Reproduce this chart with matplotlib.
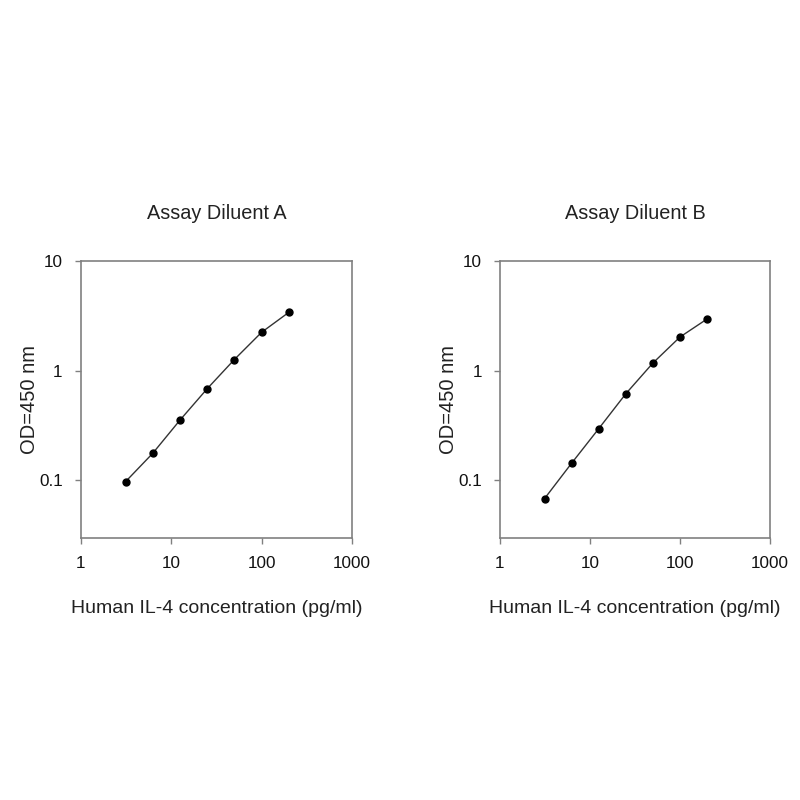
import matplotlib
matplotlib.use("Agg")
import matplotlib.pyplot as plt
from matplotlib.ticker import FixedLocator, FixedFormatter, NullLocator

plt.rcParams['font.family'] = ['Liberation Sans', 'DejaVu Sans']

conc = [3.125, 6.25, 12.5, 25, 50, 100, 200]
od_a = [0.097, 0.176, 0.353, 0.682, 1.26, 2.23, 3.39]
od_b = [0.068, 0.143, 0.295, 0.614, 1.17, 2.02, 2.95]
titles = ["Assay Diluent A", "Assay Diluent B"]
xticks = [1, 10, 100, 1000]
xticklabels = ["1", "10", "100", "1000"]
yticks = [0.1, 1, 10]
yticklabels = ["0.1", "1", "10"]

fig = plt.figure(figsize=(8, 8), dpi=100)
positions = [[0.101, 0.328, 0.339, 0.346], [0.625, 0.328, 0.3375, 0.346]]
for pos, od, title in zip(positions, [od_a, od_b], titles):
    ax = fig.add_axes(pos)
    ax.plot(conc, od, color='#333333', lw=1.0, marker='o', ms=5,
            mfc='black', mec='black')
    ax.set_xscale('log')
    ax.set_yscale('log')
    ax.set_xlim(1, 1000)
    ax.set_ylim(0.03, 10)
    ax.xaxis.set_major_locator(FixedLocator(xticks))
    ax.xaxis.set_major_formatter(FixedFormatter(xticklabels))
    ax.yaxis.set_major_locator(FixedLocator(yticks))
    ax.yaxis.set_major_formatter(FixedFormatter(yticklabels))
    ax.xaxis.set_minor_locator(NullLocator())
    ax.yaxis.set_minor_locator(NullLocator())
    for s in ax.spines.values():
        s.set_color('#808080')
        s.set_linewidth(1.2)
    ax.tick_params(direction='out', length=4, width=1, color='#808080',
                   labelsize=12.3, labelcolor='#111111', pad=9)
    ax.set_title(title, fontsize=14.3, color='#222222', pad=30)
    ax.set_xlabel("Human IL-4 concentration (pg/ml)", fontsize=14,
                  color='#222222', labelpad=21)
    ax.set_ylabel("OD=450 nm", fontsize=14.5, color='#222222', labelpad=0)

fig.savefig("out.png", dpi=100, facecolor='white')
